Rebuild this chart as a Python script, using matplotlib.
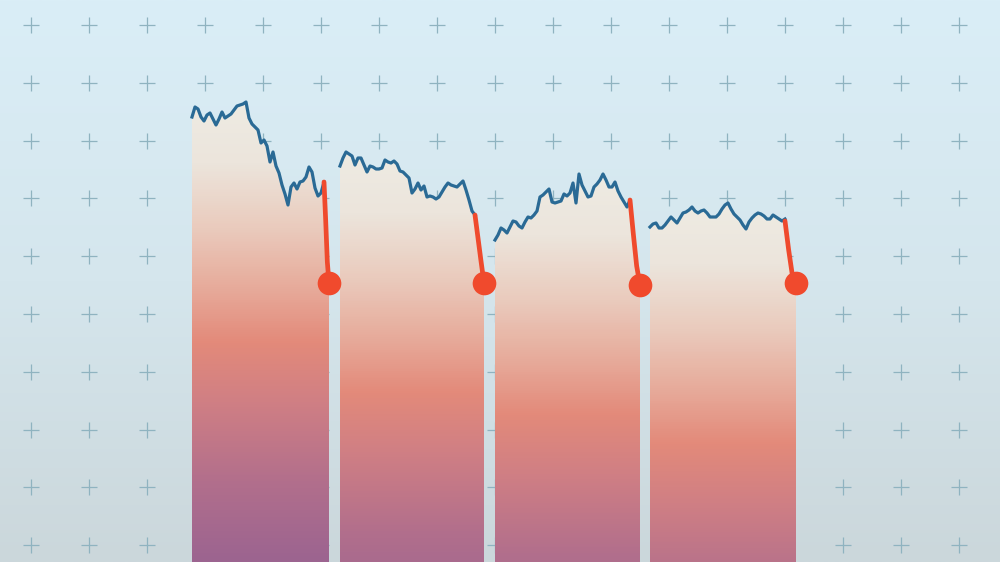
import numpy as np
import matplotlib
matplotlib.use("Agg")
from matplotlib import pyplot as plt
from matplotlib.colors import LinearSegmentedColormap
from matplotlib.patches import Polygon

##### DATA #####
# index level of each session (higher = higher), four sell-off episodes
episode_1 = [445, 455, 453, 445, 441, 447, 449, 443, 437, 443, 450, 444, 446, 448, 452,
             456, 457, 458, 460, 444, 438, 435, 432, 419, 422, 416, 400, 410, 396, 389,
             377, 368, 357, 375, 379, 373, 380, 381, 385, 395, 390, 374, 366, 369, 380]
episode_2 = [396, 404, 410, 408, 406, 397, 404, 404, 397, 390, 396, 395, 393, 393, 394,
             402, 400, 399, 401, 398, 391, 390, 387, 384, 369, 373, 379, 372, 376, 365,
             366, 365, 363, 365, 370, 375, 379, 377, 376, 375, 378, 381, 372, 362, 351, 347]
episode_3 = [322, 327, 334, 332, 329, 335, 341, 340, 336, 334, 340, 345, 344, 347, 351,
             365, 367, 370, 373, 360, 359, 360, 361, 368, 366, 369, 379, 359, 388, 377,
             371, 365, 366, 375, 378, 382, 388, 382, 375, 375, 380, 371, 365, 360, 355, 362]
episode_4 = [335, 338, 339, 334, 334, 337, 341, 345, 342, 339, 344, 349, 350, 352, 355,
             351, 349, 351, 352, 349, 345, 345, 345, 348, 353, 357, 359, 353, 348, 345,
             342, 337, 333, 340, 344, 347, 349, 348, 346, 343, 343, 347, 345, 343, 341, 343]

# the crash at the end of each episode
crash_1 = [380, 342, 300, 279]
crash_2 = [347, 324, 301, 279]
crash_3 = [362, 328, 296, 277]
crash_4 = [341, 312, 287, 279]

episodes = [episode_1, episode_2, episode_3, episode_4]
crashes = [crash_1, crash_2, crash_3, crash_4]
################

##### LAYOUT #####
W, H = 1000, 562
starts = [192, 340, 495, 650]
step = 3
drop_w = [5, 9, 10, 11]
##################

fig = plt.figure(figsize=(10, 5.62), dpi=100)
ax = fig.add_axes([0, 0, 1, 1])
ax.set_xlim(0, W)
ax.set_ylim(0, H)
ax.axis("off")

# background
bg = LinearSegmentedColormap.from_list("bg", ["#cbd7db", "#d5e6ed", "#daeef7"])
ax.imshow(np.linspace(0, 1, 256).reshape(-1, 1), cmap=bg, origin="lower",
          extent=[0, W, 0, H], aspect="auto", zorder=0)

# plus grid
gx, gy = np.meshgrid(31 + 58 * np.arange(17), H - (25 + 57.8 * np.arange(10)))
ax.scatter(gx.ravel(), gy.ravel(), marker="+", s=130, linewidths=0.9,
           color="#8fb3c0", zorder=1)

fill_cmap = LinearSegmentedColormap.from_list("fill", [
    (0.0, "#eeebe3"), (60 / 460, "#ece5dc"), (125 / 460, "#eacbbd"),
    (185 / 460, "#e7ab9b"), (240 / 460, "#e38a7a"), (300 / 460, "#d07f84"),
    (380 / 460, "#b26f8c"), (1.0, "#9c6490")])

for x0, vals, crash, dw in zip(starts, episodes, crashes, drop_w):
    x = x0 + step * np.arange(len(vals))
    xc = np.linspace(x[-1], x[-1] + dw, len(crash))
    top = max(vals)

    px = np.concatenate([x, xc[1:], [xc[-1], x[0]]])
    py = np.concatenate([vals, crash[1:], [0, 0]])
    poly = Polygon(np.column_stack([px, py]), closed=True, facecolor="none",
                   edgecolor="none")
    ax.add_patch(poly)

    # gradient measured down from the top of each episode
    d = np.linspace(0, 460, 460)
    img = ax.imshow(d.reshape(-1, 1), cmap=fill_cmap, vmin=0, vmax=460,
                    extent=[x[0], xc[-1], top - 460, top], aspect="auto", zorder=2)
    img.set_clip_path(poly)

    ax.plot(x, vals, color="#2a6a95", lw=2.3, zorder=3, solid_joinstyle="round")
    ax.plot(xc, crash, color="#ef4a2d", lw=3.4, zorder=4, solid_capstyle="round",
            solid_joinstyle="round")
    ax.scatter([xc[-1]], [crash[-1]], s=290, color="#f04a2d", zorder=5, linewidths=0)

ax.set_xlim(0, W)
ax.set_ylim(0, H)
fig.savefig("out.png", dpi=100)
